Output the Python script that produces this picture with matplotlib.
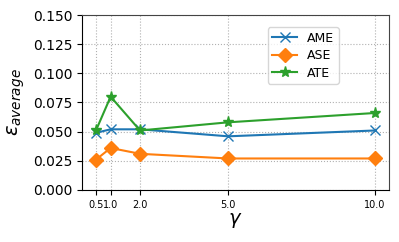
import matplotlib
matplotlib.use("Agg")
import matplotlib.pyplot as plt

gamma = [0.5, 1.0, 2.0, 5.0, 10.0]
tick_labels = ["0.5", "1.0", "2.0", "5.0", "10.0"]
ame = [0.049, 0.052, 0.052, 0.046, 0.051]
ase = [0.026, 0.036, 0.031, 0.027, 0.027]
ate = [0.051, 0.080, 0.051, 0.058, 0.066]

fig = plt.figure(figsize=(3.99, 2.42), dpi=100)
ax = fig.add_axes([0.2055, 0.215, 0.7695, 0.723])
ax.plot(gamma, ame, marker="x", markersize=7, label="AME", color="#1f77b4")
ax.plot(gamma, ase, marker="D", markersize=7, label="ASE", color="#ff7f0e")
ax.plot(gamma, ate, marker="*", markersize=8, label="ATE", color="#2ca02c")
ax.set_ylim(0, 0.15)
ax.set_yticks([0, 0.025, 0.05, 0.075, 0.1, 0.125, 0.15])
ax.set_xticks(gamma)
ax.set_xticklabels(tick_labels, fontsize=7)
ax.tick_params(axis="y", labelsize=10)
ax.grid(True, linestyle=":", color="#b0b0b0")
ax.set_xlabel(r"$\gamma$", fontsize=14, labelpad=1)
ax.set_ylabel(r"$\epsilon_{average}$", fontsize=14)
for s in ["top", "right"]:
    ax.spines[s].set_color("#444444")
ax.legend(loc="upper left", bbox_to_anchor=(0.585, 0.965), fontsize=9,
          labelspacing=0.35, borderpad=0.35)
fig.savefig("out.png", dpi=100)
